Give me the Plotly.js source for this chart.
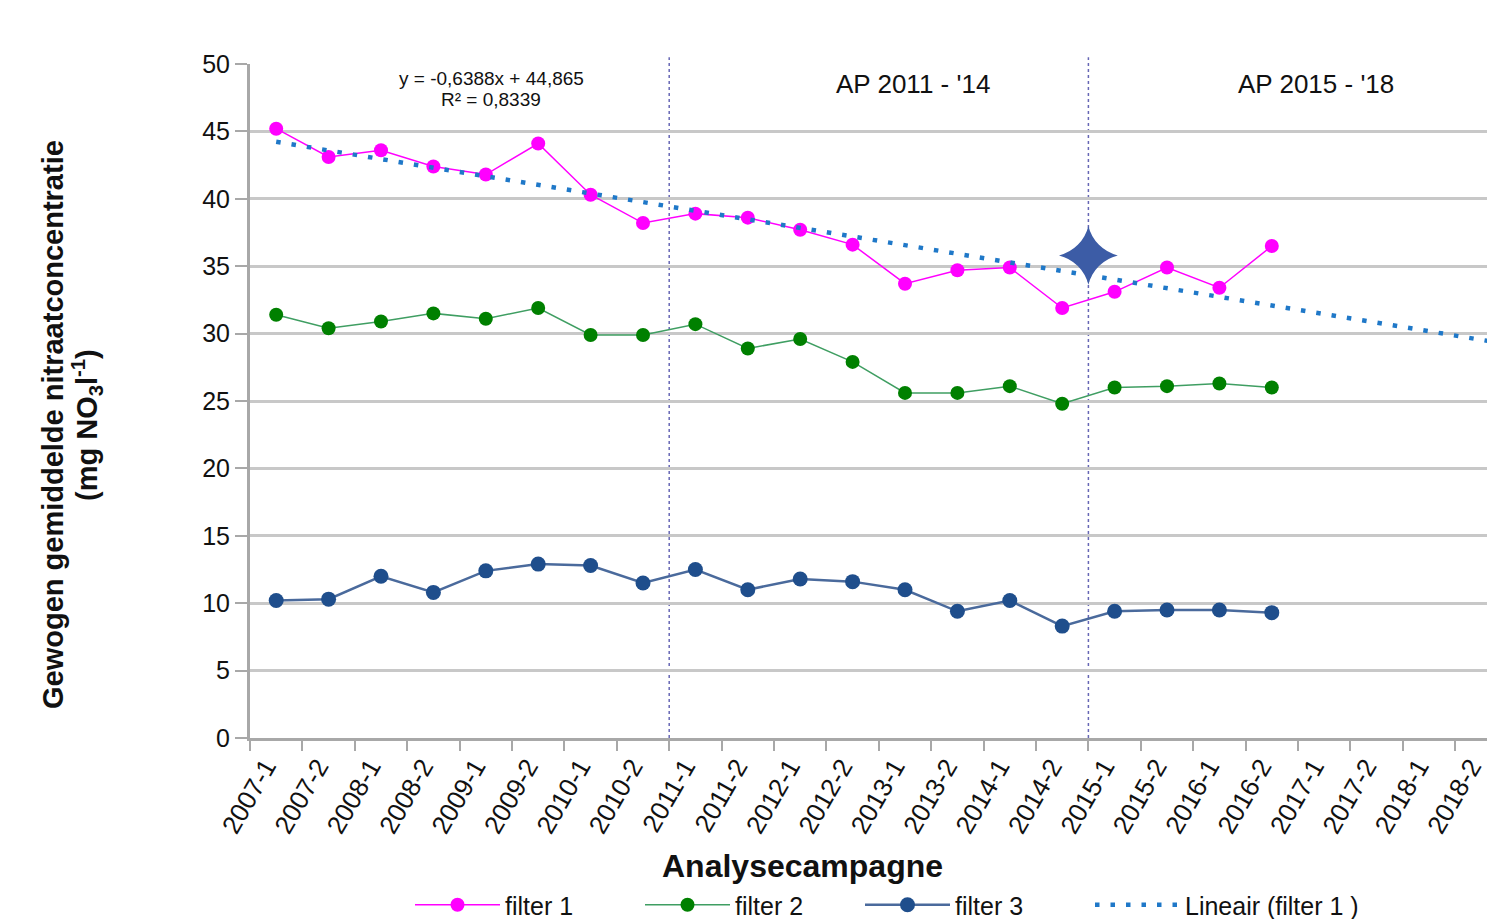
<!DOCTYPE html>
<html>
<head>
<meta charset="utf-8">
<script src="https://cdn.plot.ly/plotly-3.0.1.min.js"></script>
<style>
html,body{margin:0;padding:0;background:#fff;overflow:hidden;}
#chart{width:1487px;height:919px;}
</style>
</head>
<body>
<div id="chart"></div>
<script>
// ---- data ----
const categories = ["2007-1","2007-2","2008-1","2008-2","2009-1","2009-2","2010-1","2010-2",
  "2011-1","2011-2","2012-1","2012-2","2013-1","2013-2","2014-1","2014-2",
  "2015-1","2015-2","2016-1","2016-2","2017-1","2017-2","2018-1","2018-2"];
const filter1 = [45.2,43.1,43.6,42.4,41.8,44.1,40.3,38.2,38.9,38.6,37.7,36.6,33.7,34.7,34.9,31.9,33.1,34.9,33.4,36.5];
const filter2 = [31.4,30.4,30.9,31.5,31.1,31.9,29.9,29.9,30.7,28.9,29.6,27.9,25.6,25.6,26.1,24.8,26.0,26.1,26.3,26.0];
const filter3 = [10.2,10.3,12.0,10.8,12.4,12.9,12.8,11.5,12.5,11.0,11.8,11.6,11.0,9.4,10.2,8.3,9.4,9.5,9.5,9.3];
// linear trend of filter 1 as printed on the chart: y = -0,6388x + 44,865 (x = 1..n)
const trendSlope = -0.6388;
const trendIntercept = 44.865;
const trendLines = ["y = -0,6388x + 44,865", "R² = 0,8339"];
const periodLabels = ["AP 2011 - '14", "AP 2015 - '18"];
const periodStarts = ["2011-1", "2015-1"];
const starValue = 35.8;      // target marker on the 2015 boundary
const yTickVals = [0,5,10,15,20,25,30,35,40,45,50];
const yTitleLines = ["<b>Gewogen gemiddelde nitraatconcentratie</b>", "<b>(mg NO<sub>3</sub>l<sup>-1</sup>)</b>"];
const xTitle = "<b>Analysecampagne</b>";
const seriesNames = ["filter 1", "filter 2", "filter 3", "Lineair (filter 1 )"];

// ---- helpers ----
const idx = categories.map((c,i)=>i);
const dataX = arr => arr.map((v,i)=>i);
const trendX = [0, categories.length];
const trendY = trendX.map(x => trendIntercept + trendSlope*(x+1));
const boundaryOf = c => categories.indexOf(c) - 0.5;
const boundaries = categories.map((c,i)=>i-0.5).concat([categories.length-0.5]);

// pixel layout helpers (plot area: x 250..1487, y 64..738)
const L=250, R=1487, T=64, B=738;
const px = x => (x-L)/(R-L);
const py = y => (B-y)/(B-T);
const catWidth = 52.4;
const labelShift = 0.2;   // rotated labels sit slightly left of the category centre

const FONT = "Liberation Sans, Arial, sans-serif";

const traces = [
  {x:dataX(filter3), y:filter3, name:seriesNames[2], mode:"lines+markers", legend:"legend3",
   line:{color:"#4a6a9c", width:2.5}, marker:{color:"#1f4e8c", size:15}},
  {x:dataX(filter2), y:filter2, name:seriesNames[1], mode:"lines+markers", legend:"legend2",
   line:{color:"#3f9e62", width:1.5}, marker:{color:"#008000", size:14}},
  {x:dataX(filter1), y:filter1, name:seriesNames[0], mode:"lines+markers", legend:"legend",
   line:{color:"#ff00ff", width:1.5}, marker:{color:"#ff00ff", size:14}},
  {x:trendX, y:trendY, name:seriesNames[3], mode:"lines", legend:"legend4",
   line:{color:"#1f78c8", width:4.5, dash:"4.5px,11px"}},
  {x:[boundaryOf(periodStarts[1])], y:[starValue], mode:"markers", showlegend:false,
   marker:{symbol:"star-diamond", size:42, color:"#3c5ca6"}}
];

const ann = (x, y, text, size, extra) => Object.assign({xref:"paper", yref:"paper", x:px(x), y:py(y),
  xanchor:"center", yanchor:"middle", showarrow:false, text:text, font:{size:size, family:FONT, color:"#111"}}, extra||{});

const leg = x => ({orientation:"h", x:px(x), xanchor:"left", y:py(882), yanchor:"top",
    font:{size:25, family:FONT, color:"#111"}, itemwidth:85, bgcolor:"rgba(0,0,0,0)"});

const layout = {
  width:1487, height:919,
  margin:{l:L, r:0, t:T, b:919-B, pad:0, autoexpand:false},
  paper_bgcolor:"#fff", plot_bgcolor:"#fff",
  font:{family:FONT, color:"#000"},
  showlegend:true,
  legend:leg(410), legend2:leg(640), legend3:leg(860), legend4:leg(1090),
  xaxis:{range:[-0.5, (R-L)/catWidth-0.5], tickmode:"array", tickvals:idx.map(i=>i-labelShift), ticktext:categories,
    tickangle:-60, ticks:"", tickfont:{size:26, family:FONT, color:"#111"}, ticklabeloverflow:"allow",
    showgrid:false, zeroline:false, showline:true, linecolor:"#a8a8a8", linewidth:3,
    minor:{tickmode:"array", tickvals:boundaries, ticks:"outside", ticklen:10, tickwidth:2, tickcolor:"#a8a8a8", showgrid:false},
    fixedrange:true},
  yaxis:{range:[0,50], tickmode:"array", tickvals:yTickVals, ticks:"outside", ticklen:12, tickwidth:2, tickcolor:"#a8a8a8",
    tickfont:{size:25, family:FONT, color:"#111"}, showgrid:true, gridcolor:"#c8c8c8", gridwidth:3,
    zeroline:false, showline:true, linecolor:"#a8a8a8", linewidth:3, fixedrange:true},
  shapes: periodStarts.map(c => ({type:"line", xref:"x", yref:"paper", x0:boundaryOf(c), x1:boundaryOf(c), y0:0, y1:1.01,
    line:{color:"#6767b5", width:1.5, dash:"dot"}, layer:"between"})),
  annotations:[
    ann(491, 78, trendLines[0], 19),
    ann(491, 100, trendLines[1], 19),
    ann(913, 84, periodLabels[0], 26),
    ann(1316, 84, periodLabels[1], 26),
    ann(802, 866, xTitle, 32),
    ann(53, 425, yTitleLines[0], 29, {textangle:-90}),
    ann(87, 425, yTitleLines[1], 29, {textangle:-90})
  ]
};

Plotly.newPlot("chart", traces, layout, {displayModeBar:false, staticPlot:true});
</script>
</body>
</html>
